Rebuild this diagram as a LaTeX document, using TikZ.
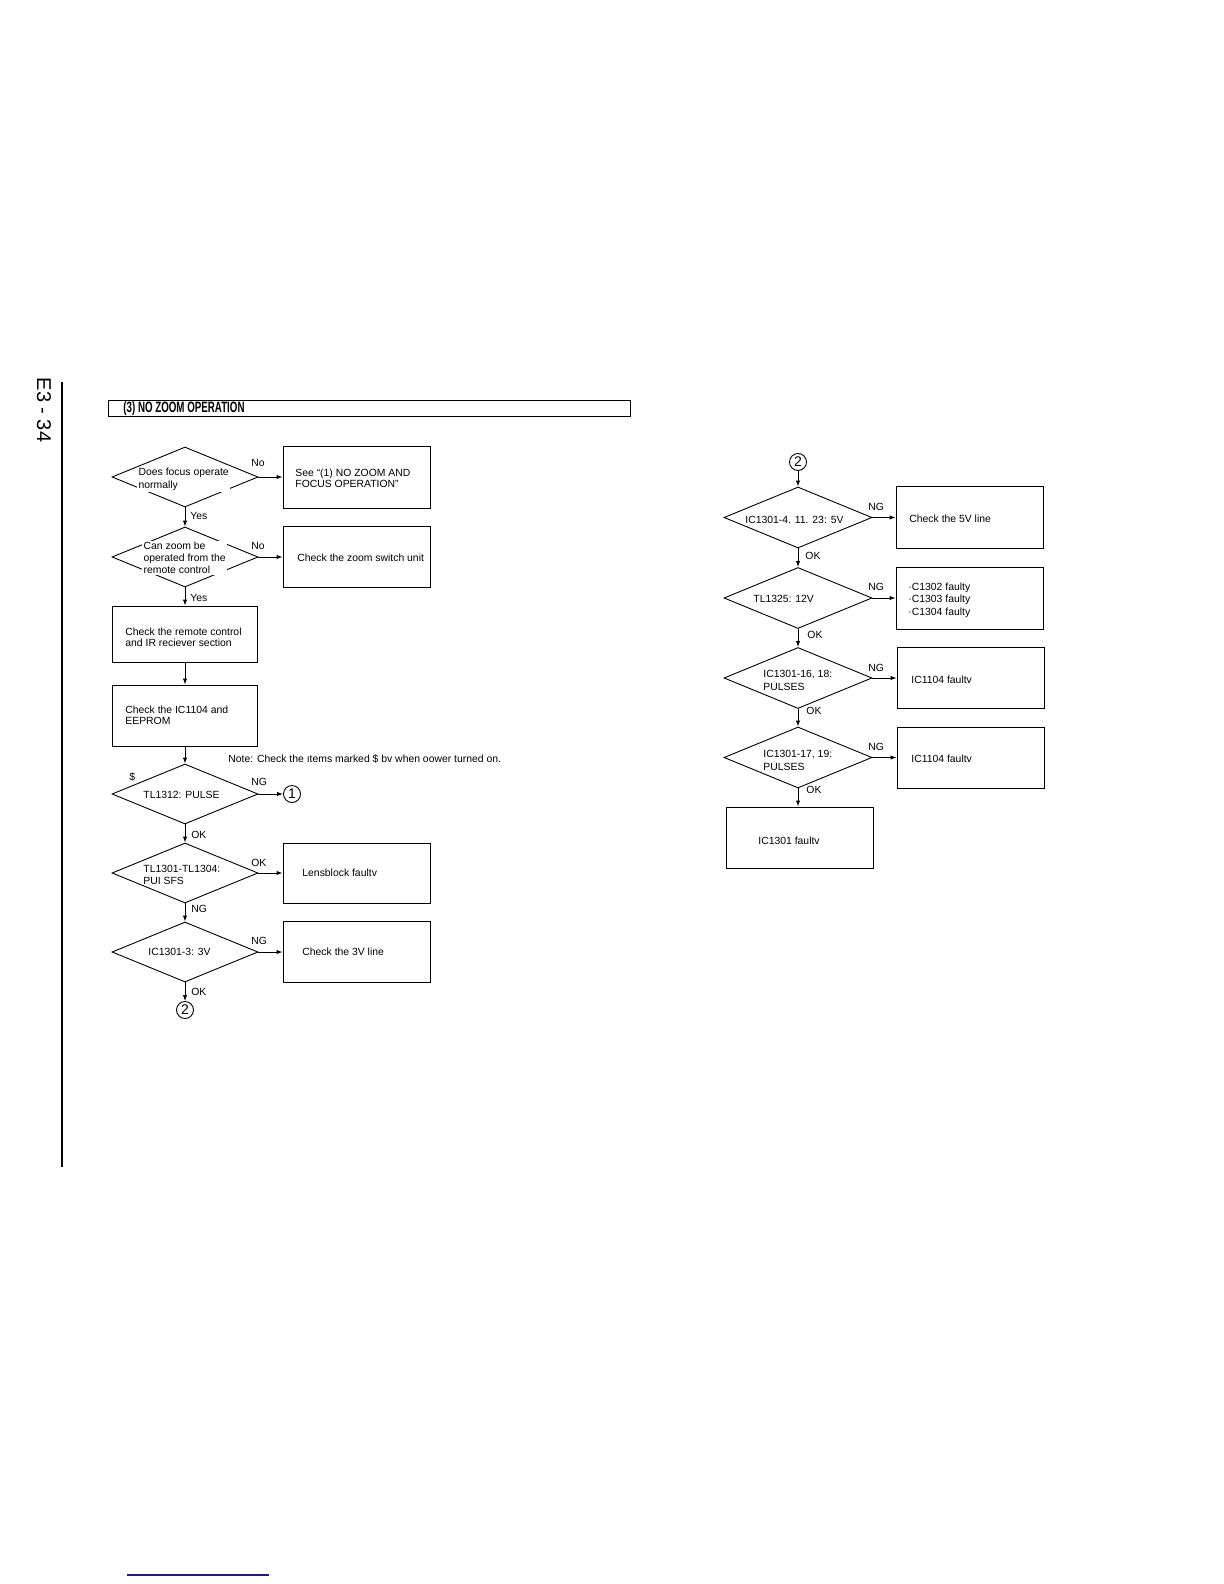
\documentclass[tikz,border=0pt]{standalone}
\usepackage{graphicx}
\usepackage{fontspec}
\setmainfont{Liberation Sans}
\usetikzlibrary{shapes.geometric,arrows.meta}
\definecolor{rulblue}{RGB}{28,28,130}
\tikzset{
  dia/.style={draw, diamond, inner sep=0pt, minimum width=73pt, minimum height=30pt, line width=0.45pt},
  rdia/.style={dia, minimum width=74pt, minimum height=30.5pt},
  fbox/.style={draw, rectangle, inner sep=0pt, minimum width=73.5pt, line width=0.45pt},
  txt/.style={font=\fontsize{5.2}{6.3}\selectfont, inner sep=0pt, anchor=west, align=left},
  btxt/.style={txt, font=\fontsize{5.2}{5.5}\selectfont},
  lbl/.style={font=\fontsize{5.2}{6}\selectfont, inner sep=0pt, anchor=west},
  arr/.style={-{Latex[length=3pt,width=2.2pt]}, line width=0.5pt},
  circ/.style={draw, circle, inner sep=0pt, minimum size=8.5pt, line width=0.45pt, font=\fontsize{7}{7}\selectfont},
  gap/.style={fill=white, inner sep=0.6pt}
}
\begin{document}
\begin{tikzpicture}[x=0.5pt,y=-0.5pt]
\useasboundingbox (0,0) rectangle (1224,1584);
% page furniture
\node[rotate=-90, font=\fontsize{10}{10}\selectfont, inner sep=0pt] (pg) at (44,410) {E3 - 34};
\draw[line width=0.8pt] (62,382) -- (62,1167);
\draw[line width=1pt, rulblue] (127,1575) -- (269,1575);
% title
\node[draw, rectangle, minimum width=261pt, minimum height=8pt, inner sep=0pt, line width=0.5pt] (title) at (369,408.5) {};
\node[anchor=west, inner sep=0pt] (titletext) at (123,409) {\scalebox{0.65}[1]{\bfseries\fontsize{7.5}{8}\selectfont (3) NO ZOOM OPERATION}};

% ---------- left column ----------
\node[dia] (d1) at (185,477) {};
\node[txt, gap] (t1) at (137,479.5) {Does focus operate\\normally};
\node[fbox, minimum height=31pt] (b1) at (356.5,477) {};
\node[btxt] (tb1) at (295,478) {See “(1) NO ZOOM AND\\FOCUS OPERATION”};
\node[lbl] (no1) at (251,463) {No};
\draw[arr] (d1.east) -- (b1.west);
\node[lbl] (yes1) at (190,516) {Yes};

\node[dia] (d2) at (185,557) {};
\node[txt, gap, font=\fontsize{5.2}{6}\selectfont] (t2) at (142,558) {Can zoom be\\operated from the\\remote control};
\node[fbox, minimum height=30.5pt] (b2) at (356.5,557) {};
\node[btxt] (tb2) at (297,558) {Check the zoom switch unit};
\node[lbl] (no2) at (251,546) {No};
\draw[arr] (d2.east) -- (b2.west);
\draw[arr] (d1.south) -- (d2.north);
\node[lbl] (yes2) at (190,598) {Yes};

\node[fbox, minimum width=72.5pt, minimum height=28pt] (b3) at (185,634) {};
\node[btxt] (tb3) at (125,637.5) {Check the remote control\\and IR reciever section};
\draw[arr] (d2.south) -- (b3.north);
\node[fbox, minimum width=72.5pt, minimum height=30.5pt] (b4) at (185,715.5) {};
\node[btxt] (tb4) at (125,715.5) {Check the IC1104 and\\EEPROM};
\draw[arr] (b3.south) -- (b4.north);

\node[txt] (note) at (228,759) {Note: Check the ıtems marked \$ bv when oower turned on.};

\node[dia] (d3) at (185,794) {};
\draw[arr] (b4.south) -- (d3.north);
\node[lbl] (dollar) at (129,777) {\$};
\node[txt] (t3) at (143,795) {TL1312: PULSE};
\node[lbl] (ng3) at (251,782) {NG};
\node[circ] (c1) at (292,794) {1};
\draw[arr] (d3.east) -- (c1.west);
\node[lbl] (ok3) at (191,835) {OK};

\node[dia] (d4) at (185,873) {};
\draw[arr] (d3.south) -- (d4.north);
\node[txt] (t4) at (143,875) {TL1301-TL1304:\\PUI SFS};
\node[fbox, minimum height=30pt] (b5) at (356.5,873) {};
\node[btxt] (tb5) at (302,873) {Lensblock faultv};
\node[lbl] (ok4) at (251,863) {OK};
\draw[arr] (d4.east) -- (b5.west);
\node[lbl] (ng4) at (191,909) {NG};

\node[dia] (d5) at (185,952) {};
\draw[arr] (d4.south) -- (d5.north);
\node[txt] (t5) at (148,952) {IC1301-3: 3V};
\node[fbox, minimum height=30.5pt] (b6) at (356.5,952) {};
\node[btxt] (tb6) at (302,952) {Check the 3V line};
\node[lbl] (ng5) at (251,941) {NG};
\draw[arr] (d5.east) -- (b6.west);
\node[lbl] (ok5) at (191,992) {OK};
\node[circ] (c2a) at (185,1010) {2};
\draw[arr] (d5.south) -- (c2a.north);

% ---------- right column ----------
\node[circ] (c2b) at (798,462) {2};
\node[rdia] (r1) at (798,517.5) {};
\draw[arr] (c2b.south) -- (r1.north);
\node[txt] (tr1) at (745,520) {IC1301-4. 11. 23: 5V};
\node[fbox, minimum height=31pt] (rb1) at (969.5,517.5) {};
\node[btxt] (trb1) at (909,519) {Check the 5V line};
\node[lbl] (ngr1) at (868,507) {NG};
\draw[arr] (r1.east) -- (rb1.west);
\node[lbl] (okr1) at (805,556) {OK};

\node[rdia] (r2) at (798,598) {};
\draw[arr] (r1.south) -- (r2.north);
\node[txt] (tr2) at (753,599) {TL1325: 12V};
\node[fbox, minimum height=31pt] (rb2) at (969.5,598) {};
\node[txt] (trb2) at (908,600) {·C1302 faulty\\·C1303 faulty\\·C1304 faulty};
\node[lbl] (ngr2) at (868,587) {NG};
\draw[arr] (r2.east) -- (rb2.west);
\node[lbl] (okr2) at (807,635) {OK};

\node[rdia] (r3) at (798,678) {};
\draw[arr] (r2.south) -- (r3.north);
\node[txt] (tr3) at (763,680.5) {IC1301-16, 18:\\PULSES};
\node[fbox, minimum height=30.5pt] (rb3) at (970.5,678) {};
\node[btxt] (trb3) at (911,680) {IC1104 faultv};
\node[lbl] (ngr3) at (868,668) {NG};
\draw[arr] (r3.east) -- (rb3.west);
\node[lbl] (okr3) at (806,711) {OK};

\node[rdia] (r4) at (798,757.5) {};
\draw[arr] (r3.south) -- (r4.north);
\node[txt] (tr4) at (763,760.5) {IC1301-17, 19:\\PULSES};
\node[fbox, minimum height=30.5pt] (rb4) at (970.5,757.5) {};
\node[btxt] (trb4) at (911,759) {IC1104 faultv};
\node[lbl] (ngr4) at (868,747) {NG};
\draw[arr] (r4.east) -- (rb4.west);
\node[lbl] (okr4) at (806,790) {OK};

\node[fbox, minimum height=30.5pt] (rb5) at (799.5,837.5) {};
\node[btxt] (trb5) at (758,841) {IC1301 faultv};
\draw[arr] (r4.south) -- (r4.south |- rb5.north);
\end{tikzpicture}
\end{document}
